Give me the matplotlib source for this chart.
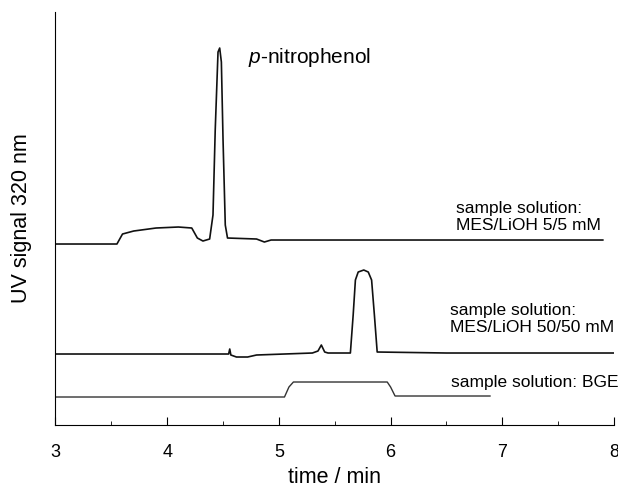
import matplotlib.pyplot as plt
from matplotlib.ticker import MultipleLocator

plt.rcParams['font.family'] = ['Liberation Sans', 'DejaVu Sans']
plt.rcParams['mathtext.fontset'] = 'custom'
plt.rcParams['mathtext.it'] = 'Liberation Sans:italic'
plt.rcParams['mathtext.rm'] = 'Liberation Sans'

# trace 1: sample solution MES/LiOH 5/5 mM (offset signal, arbitrary units)
t1 = [3.00, 3.55, 3.60, 3.70, 3.90, 4.10, 4.22, 4.27, 4.32, 4.38, 4.41, 4.43,
      4.455, 4.47, 4.485, 4.50, 4.52, 4.54, 4.80, 4.87, 4.93, 5.50, 6.50, 7.90]
s1 = [181, 181, 191, 194, 197, 198, 197, 187, 184, 186, 210, 295,
      373, 377, 363, 285, 200, 187, 186, 183, 185, 185, 185, 185]

# trace 2: sample solution MES/LiOH 50/50 mM
t2 = [3.00, 4.55, 4.56, 4.57, 4.62, 4.72, 4.80, 5.30, 5.35, 5.38, 5.41, 5.44,
      5.64, 5.665, 5.685, 5.71, 5.76, 5.80, 5.83, 5.855, 5.88, 6.50, 8.00]
s2 = [71, 71, 76, 70, 68, 68, 70, 72, 74, 80, 73, 72,
      72, 110, 145, 153, 155, 153, 145, 110, 73, 72, 72]

# trace 3: sample solution BGE
t3 = [3.00, 5.05, 5.09, 5.13, 5.97, 6.00, 6.04, 6.89]
s3 = [28, 28, 38, 43, 43, 38, 29, 29]

fig = plt.figure(figsize=(6.18, 4.87), dpi=100)
ax = fig.add_axes([0.0898, 0.1273, 0.9037, 0.848])

ax.plot(t1, s1, color='#111111', lw=1.2)
ax.plot(t2, s2, color='#111111', lw=1.2)
ax.plot(t3, s3, color='#333333', lw=1.0)

ax.text(4.72, 368, r'$\mathit{p}$-nitrophenol', fontsize=15, va='center')

ax.text(6.585, 208, 'sample solution:\nMES/LiOH 5/5 mM', fontsize=12.5,
        va='center', linespacing=1.2)
ax.text(6.53, 106, 'sample solution:\nMES/LiOH 50/50 mM', fontsize=12.5,
        va='center', linespacing=1.2)
ax.text(6.54, 43, 'sample solution: BGE', fontsize=12.5, va='center')

ax.set_xlim(3, 8)
ax.set_ylim(0, 413)
ax.xaxis.set_major_locator(MultipleLocator(1))
ax.xaxis.set_minor_locator(MultipleLocator(0.5))
ax.tick_params(axis='x', which='major', direction='in', length=6, labelsize=13, pad=14)
ax.tick_params(axis='x', which='minor', direction='in', length=3)
ax.set_yticks([])
ax.spines['top'].set_visible(False)
ax.spines['right'].set_visible(False)

ax.set_xlabel('time / min', fontsize=15.5)
ax.set_ylabel('UV signal 320 nm', fontsize=15.5)
ax.xaxis.set_label_coords(0.5, -0.102)
ax.yaxis.set_label_coords(-0.042, 0.5)

fig.savefig('out.png', dpi=100)
